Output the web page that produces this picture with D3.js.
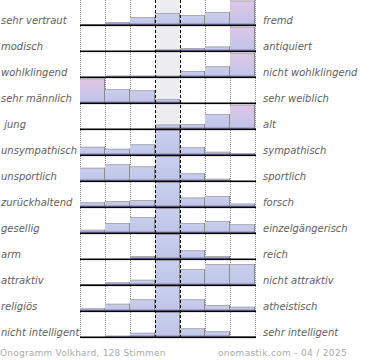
<!DOCTYPE html>
<html><head><meta charset="utf-8">
<script src="https://cdn.jsdelivr.net/npm/d3@7"></script>
<style>
html,body{margin:0;padding:0;background:#fff;}
svg{display:block;}
text{font-family:"DejaVu Sans",sans-serif;white-space:pre;}
</style></head>
<body><svg id="c" width="370" height="360"></svg>
<script>
const leftLabels = ["sehr vertraut","modisch","wohlklingend","sehr männlich"," jung","unsympathisch","unsportlich","zurückhaltend","gesellig","arm","attraktiv","religiös","nicht intelligent"];
const rightLabels = ["fremd","antiquiert","nicht wohlklingend","sehr weiblich","alt","sympathisch","sportlich","forsch","einzelgängerisch","reich","nicht attraktiv","atheistisch","sehr intelligent"];
const steps = [1,2,3,4,5,6,7];
const values = [
  [4, 12, 32, 48, 40, 52, 98],
  [0, 0, 0, 6, 12, 18, 97],
  [0, 5, 5, 5, 24, 43, 97],
  [98, 56, 51, 16, 0, 0, 0],
  [0, 0, 0, 18, 20, 60, 97],
  [33, 25, 43, 100, 31, 13, 7],
  [53, 67, 59, 100, 31, 9, 0],
  [19, 24, 28, 100, 38, 44, 14],
  [13, 40, 64, 100, 40, 48, 35],
  [0, 0, 12, 100, 35, 12, 0],
  [3, 11, 21, 100, 64, 84, 84],
  [11, 29, 47, 100, 47, 24, 17],
  [0, 5, 17, 100, 35, 23, 2]
];
const footerLeft = "Onogramm Volkhard, 128 Stimmen";
const footerRight = "onomastik.com - 04 / 2025";

const svg = d3.select("#c");
const rows = d3.range(leftLabels.length);
const yRow = d3.scaleBand().domain(rows).range([-1, 337]);
const x = d3.scaleBand().domain(steps).range([80, 255]);
const h = d3.scaleLinear().domain([0, 100]).range([0, 25]);
const base = i => yRow(i) + yRow.bandwidth();

const defs = svg.append("defs");
const gBlue = defs.append("linearGradient").attr("id","gb").attr("x1",0).attr("y1",0).attr("x2",0).attr("y2",1);
gBlue.append("stop").attr("offset","0%").attr("stop-color","#c9cfec");
gBlue.append("stop").attr("offset","100%").attr("stop-color","#bec4e7");
const gPink = defs.append("linearGradient").attr("id","gp").attr("x1",0).attr("y1",0).attr("x2",0).attr("y2",1);
gPink.append("stop").attr("offset","0%").attr("stop-color","#dfc6e6");
gPink.append("stop").attr("offset","100%").attr("stop-color","#bfc5e8");

const plotBottom = 337;
// middle column background
svg.append("rect").attr("x", x(4)).attr("y", 0).attr("width", x.bandwidth()).attr("height", plotBottom)
  .attr("fill", "#ededef");
// dotted grid
const gridPos = [x(1), x(2), x(3), x(6), x(7), x(7) + x.bandwidth()];
svg.selectAll(".dot").data(gridPos).enter().append("line")
  .attr("x1", d => d + 0.5).attr("x2", d => d + 0.5).attr("y1", 0).attr("y2", plotBottom)
  .attr("stroke", "#888").attr("stroke-dasharray", "1,1");

// bars
rows.forEach(i => {
  const g = svg.append("g");
  const vals = values[i];
  const mx = d3.max(vals);
  vals.forEach((v, j) => {
    if (v <= 0) return;
    const bx = x(steps[j]), bw = x.bandwidth(), bh = h(v), by = base(i) - bh;
    const pink = (j === 0 || j === 6) && v === mx;
    g.append("rect").attr("x", bx).attr("y", by).attr("width", bw).attr("height", bh)
      .attr("fill", pink ? "url(#gp)" : "url(#gb)");
    g.append("rect").attr("x", bx).attr("y", base(i) - Math.min(2, bh)).attr("width", bw).attr("height", Math.min(2, bh))
      .attr("fill", "#a89fd2");
    g.append("line").attr("x1", bx).attr("x2", bx + bw).attr("y1", by + 0.5).attr("y2", by + 0.5)
      .attr("stroke", "#aaaab4").attr("stroke-width", 1);
    g.append("line").attr("x1", bx + bw - 0.5).attr("x2", bx + bw - 0.5).attr("y1", by).attr("y2", base(i))
      .attr("stroke", "#8a8a8a").attr("stroke-width", 1);
  });
});

// dashed middle lines
[x(4), x(5)].forEach(px => {
  svg.append("line").attr("x1", px + 0.5).attr("x2", px + 0.5).attr("y1", 0).attr("y2", plotBottom)
    .attr("stroke", "#000").attr("stroke-dasharray", "3,2");
});

// baselines
svg.selectAll(".base").data(rows).enter().append("rect")
  .attr("x", 80).attr("y", d => base(d) - 0.5).attr("width", 176).attr("height", 1.6)
  .attr("fill", "#000");

// labels
svg.selectAll(".ll").data(leftLabels).enter().append("text")
  .attr("x", 1).attr("y", (d, i) => base(i) - 1.5)
  .attr("font-size", 10).attr("font-style", "italic").attr("fill", "#606060").text(d => d);
svg.selectAll(".rl").data(rightLabels).enter().append("text")
  .attr("x", 263).attr("y", (d, i) => base(i) - 1.5)
  .attr("font-size", 10).attr("font-style", "italic").attr("fill", "#606060").text(d => d);

svg.append("text").attr("x", 0).attr("y", 356).attr("font-size", 9).attr("fill", "#aaa")
  .attr("letter-spacing", 0.22).text(footerLeft);
svg.append("text").attr("x", 347).attr("y", 356).attr("text-anchor", "end").attr("font-size", 9).attr("fill", "#aaa")
  .attr("letter-spacing", 0.32).text(footerRight);
</script></body></html>
